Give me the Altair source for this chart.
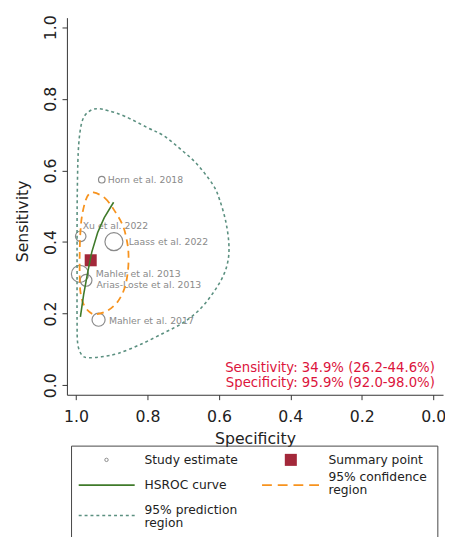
import altair as alt
import pandas as pd

# ---------------- data ----------------
studies = ["Horn et al. 2018", "Xu et al. 2022", "Laass et al. 2022",
           "Mahler et al. 2013", "Arias-Loste et al. 2013", "Mahler et al. 2017"]
study_spec = [0.928, 0.987, 0.894, 0.989, 0.972, 0.937]
study_sens = [0.574, 0.416, 0.401, 0.311, 0.293, 0.183]
study_weight = [44, 115, 336, 306, 144, 178]

summary_spec = [0.959]
summary_sens = [0.349]

hsroc_spec = [0.9879, 0.9788, 0.9670, 0.9560, 0.9395, 0.9210, 0.8949]
hsroc_sens = [0.1909, 0.2532, 0.3171, 0.3719, 0.4268, 0.4679, 0.5110]

conf_spec = [0.9513, 0.9191, 0.8916, 0.8687, 0.8569, 0.8531, 0.8550, 0.8641, 0.8825,
             0.9100, 0.9422, 0.9604, 0.9788, 0.9879, 0.9898, 0.9898, 0.9879, 0.9835,
             0.9741, 0.9651]
conf_sens = [0.5384, 0.5228, 0.4863, 0.4452, 0.3993, 0.3629, 0.3171, 0.2715, 0.2348,
             0.2093, 0.1983, 0.2030, 0.2257, 0.2622, 0.3080, 0.3719, 0.4268, 0.4726,
             0.5137, 0.5321]

pred_spec = [0.9972, 0.9972, 0.9972, 0.9967, 0.9939, 0.9871, 0.9761, 0.9568, 0.9375,
             0.9100, 0.8641, 0.8000, 0.7540, 0.7083, 0.6624, 0.6164, 0.5982, 0.5812,
             0.5724, 0.5743, 0.5889, 0.6164, 0.6533, 0.6990, 0.7540, 0.8184, 0.8825,
             0.9285, 0.9651, 0.9835, 0.9953]
pred_sens = [0.1846, 0.2943, 0.4040, 0.5274, 0.6508, 0.7194, 0.7523, 0.7688, 0.7723,
             0.7669, 0.7515, 0.7194, 0.6966, 0.6599, 0.6188, 0.5595, 0.5184, 0.4589,
             0.3985, 0.3491, 0.3033, 0.2578, 0.2120, 0.1755, 0.1462, 0.1146, 0.0886,
             0.0795, 0.0768, 0.0839, 0.1160]

tick_values = [0.0, 0.2, 0.4, 0.6, 0.8, 1.0]
stats_lines = ["Sensitivity: 34.9% (26.2-44.6%)", "Specificity: 95.9% (92.0-98.0%)"]

# ---------------- styling ----------------
FONT = "DejaVu Sans"
GREEN = "#3f7a2a"
ORANGE = "#f7931e"
TEAL = "#5b9080"
RED = "#a3283a"
GRAY = "#8a8a8a"
CRIMSON = "#dc143c"

W, H = 383, 384

study_df = pd.DataFrame({"study": studies, "spec": study_spec,
                         "sens": study_sens, "w": study_weight})
summary_df = pd.DataFrame({"spec": summary_spec, "sens": summary_sens})
hsroc_df = pd.DataFrame({"spec": hsroc_spec, "sens": hsroc_sens,
                         "i": list(range(len(hsroc_spec)))})
conf_df = pd.DataFrame({"spec": conf_spec, "sens": conf_sens,
                        "i": list(range(len(conf_spec)))})
pred_df = pd.DataFrame({"spec": pred_spec, "sens": pred_sens,
                        "i": list(range(len(pred_spec)))})
one = pd.DataFrame({"a": [0]})

xscale = alt.Scale(domain=[1.0256, -0.0275], nice=False, zero=False)
yscale = alt.Scale(domain=[-0.0266, 1.0266], nice=False, zero=False)

X = alt.X("spec:Q", scale=xscale,
          axis=alt.Axis(values=tick_values, format=".1f", title="Specificity",
                        grid=False, tickSize=5, labelFontSize=16, titleFontSize=16,
                        titleFontWeight="normal", labelPadding=9, labelFlush=False,
                        labelOverlap=False, domainColor="#333333", tickColor="#333333",
                        labelColor="#222222", titleColor="#222222",
                        titleBaseline="alphabetic", titleY=50, labelFont=FONT,
                        titleFont=FONT))
Y = alt.Y("sens:Q", scale=yscale,
          axis=alt.Axis(values=tick_values, format=".1f", title="Sensitivity",
                        grid=False, tickSize=5, labelFontSize=16, titleFontSize=16,
                        titleFontWeight="normal", labelAngle=270, labelAlign="center",
                        labelBaseline="bottom", labelPadding=4, labelFlush=False,
                        labelOverlap=False, domainColor="#333333", tickColor="#333333",
                        labelColor="#222222", titleColor="#222222",
                        titleAngle=270, titleAlign="center", titleBaseline="alphabetic",
                        titleX=-40, titleY=207, labelFont=FONT, titleFont=FONT))

circles = alt.Chart(study_df).mark_point(shape="circle", filled=False, color=GRAY,
                                         strokeWidth=1.2, opacity=1).encode(
    x=X, y=Y, size=alt.Size("w:Q", scale=None, legend=None))

label_offsets = {
    "Horn et al. 2018": (6, 0),
    "Xu et al. 2022": (2, -10),
    "Laass et al. 2022": (15, 0),
    "Mahler et al. 2013": (16, 0),
    "Arias-Loste et al. 2013": (10.5, 4.5),
    "Mahler et al. 2017": (10.5, 1),
}
label_layers = []
for s in studies:
    dx, dy = label_offsets[s]
    label_layers.append(
        alt.Chart(study_df).transform_filter(alt.datum.study == s)
        .mark_text(align="left", baseline="middle", dx=dx, dy=dy, fontSize=9.5,
                   font=FONT, color=GRAY)
        .encode(x=X, y=Y, text="study:N"))

summary = alt.Chart(summary_df).mark_point(shape="square", filled=True, color=RED,
                                           size=150, opacity=1).encode(x=X, y=Y)

pred = alt.Chart(pred_df).mark_line(color=TEAL, strokeWidth=1.6, strokeDash=[3, 3],
                                    interpolate="cardinal-closed").encode(
    x=X, y=Y, order="i:Q")
conf = alt.Chart(conf_df).mark_line(color=ORANGE, strokeWidth=1.8, strokeDash=[7, 5],
                                    interpolate="cardinal-closed").encode(
    x=X, y=Y, order="i:Q")
hsroc = alt.Chart(hsroc_df).mark_line(color=GREEN, strokeWidth=1.6).encode(
    x=X, y=Y, order="i:Q")

stats = [
    alt.Chart(one).mark_text(text=stats_lines[0], align="right", baseline="alphabetic",
                             fontSize=13.5, font=FONT, color=CRIMSON)
    .encode(x=alt.value(374.7), y=alt.value(361)),
    alt.Chart(one).mark_text(text=stats_lines[1], align="right", baseline="alphabetic",
                             fontSize=13.5, font=FONT, color=CRIMSON)
    .encode(x=alt.value(374.7), y=alt.value(376)),
]

# ---------------- legend (drawn below the plot) ----------------
legend_box = alt.Chart(one).mark_rect(fillOpacity=0, stroke="#444444",
                                      strokeWidth=1).encode(
    x=alt.value(4.7), x2=alt.value(377.7), y=alt.value(436.3), y2=alt.value(532))

def ltext(txt, x, y):
    return alt.Chart(one).mark_text(text=txt, align="left", baseline="alphabetic",
                                    fontSize=12.5, font=FONT, color="#222222").encode(
        x=alt.value(x), y=alt.value(y))

legend = [
    legend_box,
    alt.Chart(one).mark_point(shape="circle", filled=False, color=GRAY, size=12,
                              strokeWidth=1, opacity=1).encode(
        x=alt.value(40.3), y=alt.value(450.3)),
    alt.Chart(one).mark_point(shape="square", filled=True, color=RED, size=150,
                              opacity=1).encode(x=alt.value(228), y=alt.value(450.3)),
    alt.Chart(one).mark_rule(color=GREEN, strokeWidth=1.6).encode(
        x=alt.value(12), x2=alt.value(69), y=alt.value(476)),
    alt.Chart(one).mark_rule(color=ORANGE, strokeWidth=1.8, strokeDash=[10, 6]).encode(
        x=alt.value(198.7), x2=alt.value(257), y=alt.value(476)),
    alt.Chart(one).mark_rule(color=TEAL, strokeWidth=1.6, strokeDash=[3, 3]).encode(
        x=alt.value(12), x2=alt.value(69), y=alt.value(507)),
    ltext("Study estimate", 79, 454.3),
    ltext("Summary point", 266.3, 454.3),
    ltext("HSROC curve", 79, 480.3),
    ltext("95% confidence", 266.3, 472.3),
    ltext("region", 266.3, 485.5),
    ltext("95% prediction", 79, 505.2),
    ltext("region", 79, 518.4),
]

chart = alt.layer(
    circles, *label_layers, summary, pred, conf, hsroc, *stats, *legend
).properties(
    width=W, height=H,
    autosize=alt.AutoSizeParams(type="none"),
    padding={"left": 60, "top": 5, "right": 2, "bottom": 140},
    background="white",
).configure_view(stroke=None)

chart.save("out.html", embed_options={"renderer": "svg", "actions": False})
